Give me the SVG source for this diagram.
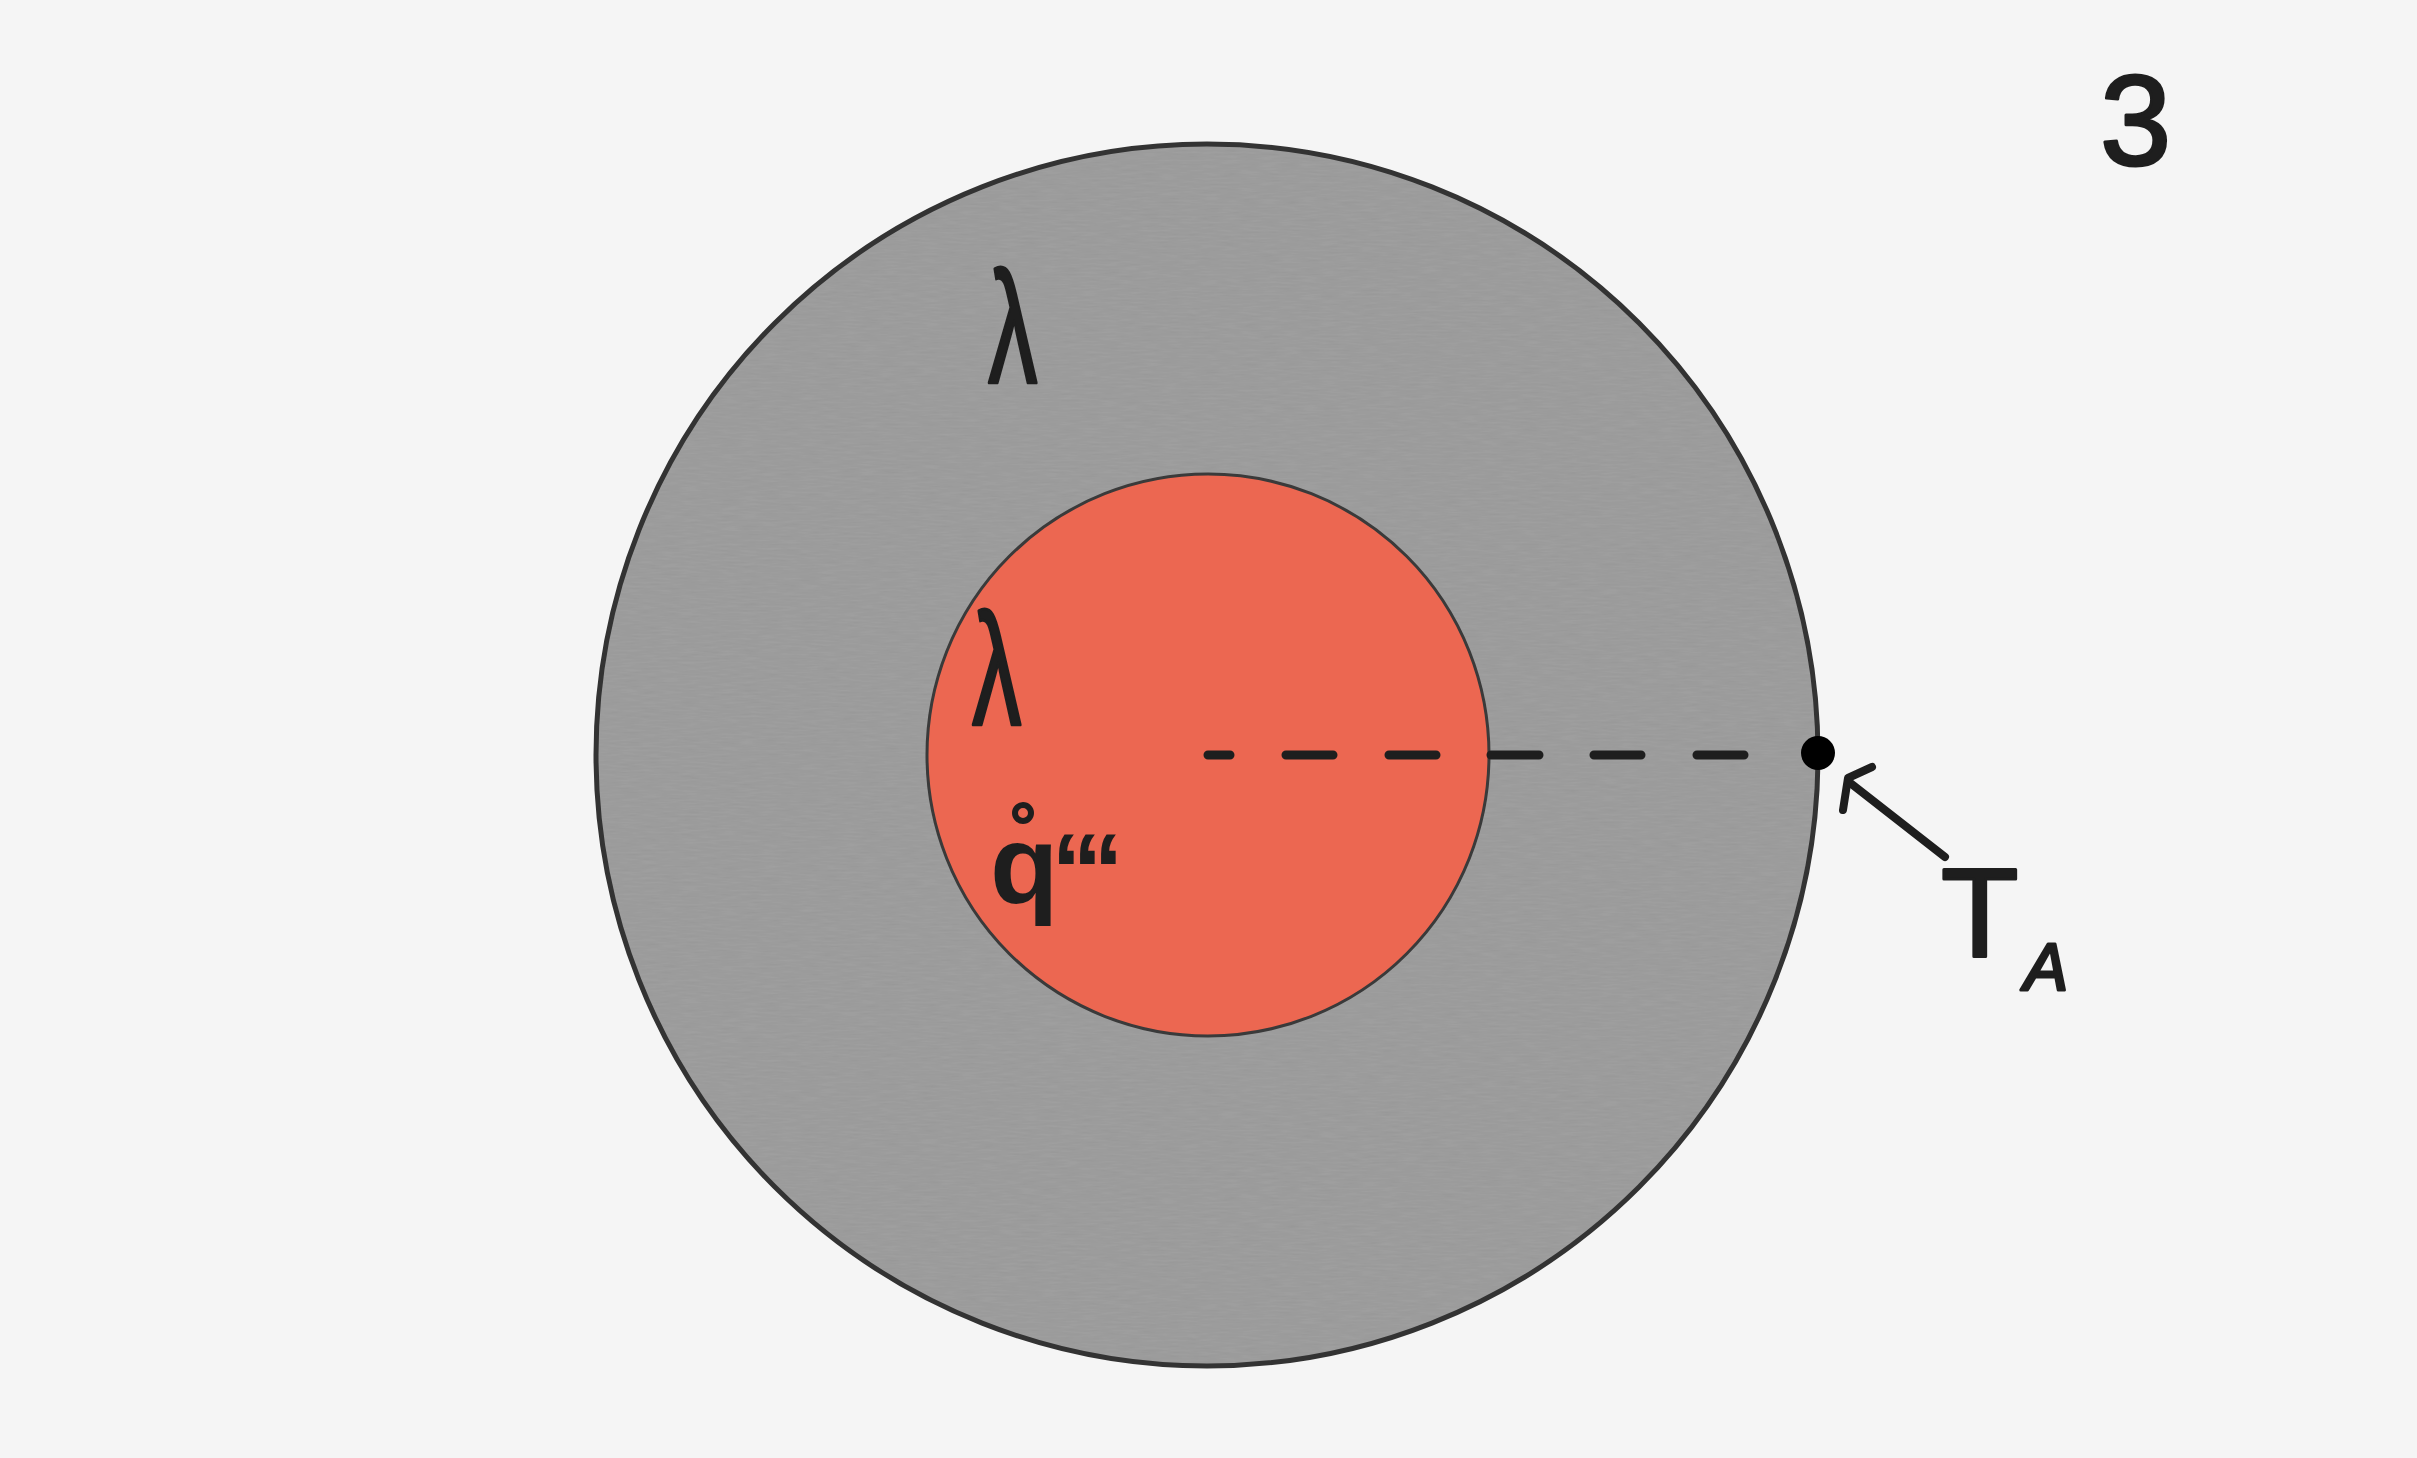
<svg xmlns="http://www.w3.org/2000/svg" width="2417" height="1458" viewBox="0 0 2417 1458">
<style>
.ink{fill:#1e1e1e;font-family:"Liberation Sans",Arial,sans-serif}
.thick{stroke:#1e1e1e;stroke-width:3;stroke-linejoin:round}
.dash{stroke:#1e1e1e;stroke-width:9;stroke-linecap:round;fill:none}
</style>
<defs>
<filter id="grain" x="-5%" y="-5%" width="110%" height="110%">
<feTurbulence type="fractalNoise" baseFrequency="0.05 0.5" numOctaves="2" seed="3" result="n"/>
<feColorMatrix in="n" type="matrix" values="0 0 0 0 1  0 0 0 0 1  0 0 0 0 1  0 0 0 0.07 0" result="w"/>
<feComposite in="w" in2="SourceGraphic" operator="in" result="wc"/>
<feMerge><feMergeNode in="SourceGraphic"/><feMergeNode in="wc"/></feMerge>
</filter>
</defs>
<rect width="2417" height="1458" fill="#f5f5f5"/>
<g id="outer-layer">
<circle cx="1207" cy="755" r="611" fill="#979797" filter="url(#grain)"/>
<circle cx="1207" cy="755" r="611" fill="none" stroke="#333333" stroke-width="5"/>
</g>
<g id="inner-core">
<circle cx="1208" cy="755" r="281" fill="#ec6751" stroke="#3a3a3a" stroke-width="3"/>
</g>
<g id="connectors">
<path class="dash" d="M1208 755H1230M1286 755H1333M1389 755H1436M1491 755H1539M1594 755H1641M1697 755H1744"/>
<path d="M1945 857L1849 782" stroke="#1e1e1e" stroke-width="8" stroke-linecap="round" fill="none"/>
<path d="M1872 767L1848 778L1843 810" stroke="#1e1e1e" stroke-width="8" stroke-linecap="round" stroke-linejoin="round" fill="none"/>
</g>
<g id="surface-point">
<circle cx="1818" cy="753" r="17" fill="#000000"/>
</g>
<g id="labels">
<text class="ink thick" x="2100" y="165" font-size="128" stroke-width="4">3</text>
<text class="ink thick" x="988" y="383" font-size="160" transform="translate(988 0) scale(0.62 1) translate(-988 0)">λ</text>
<text class="ink thick" x="972" y="725" font-size="160" transform="translate(972 0) scale(0.62 1) translate(-972 0)">λ</text>
<circle cx="1023" cy="813" r="8" fill="none" stroke="#1e1e1e" stroke-width="6"/>
<text class="ink" x="990" y="903" font-size="112" font-weight="bold">q</text>
<text class="ink" x="1052" y="906" font-size="104" font-weight="bold" letter-spacing="-4">‘‘‘</text>
<text class="ink thick" x="1941" y="956" font-size="127">T</text>
<text class="ink thick" x="2024" y="990" font-size="66" font-style="italic" stroke-width="2">A</text>
</g>
</svg>
